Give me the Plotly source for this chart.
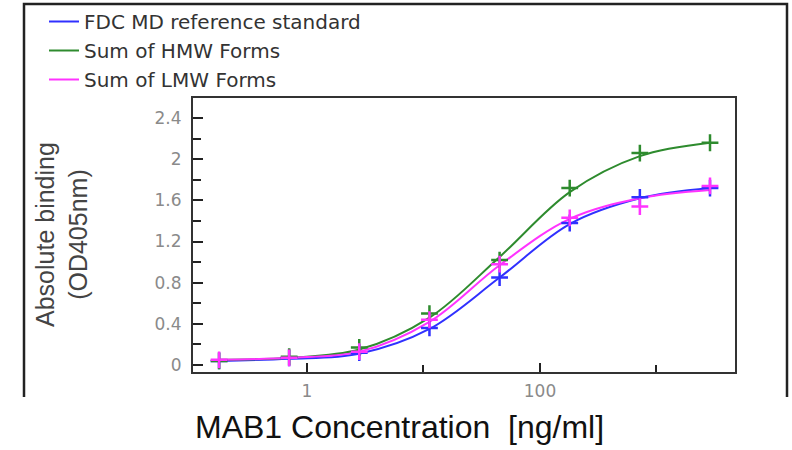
import plotly.graph_objects as go

# Concentrations (ng/ml), 4-fold dilution series
conc = [0.176, 0.703, 2.81, 11.25, 45, 180, 720, 2880]

# Measured points
ref_pts = [0.04, 0.07, 0.12, 0.36, 0.85, 1.38, 1.63, 1.72]
hmw_pts = [0.04, 0.08, 0.17, 0.50, 1.02, 1.72, 2.06, 2.16]
lmw_pts = [0.05, 0.07, 0.13, 0.44, 0.98, 1.43, 1.54, 1.74]

# Fitted curve values read at the same concentrations
ref_fit = [0.04, 0.06, 0.11, 0.35, 0.85, 1.37, 1.62, 1.72]
hmw_fit = [0.05, 0.07, 0.15, 0.46, 1.05, 1.68, 2.03, 2.16]
lmw_fit = [0.05, 0.07, 0.13, 0.42, 0.97, 1.42, 1.62, 1.70]

names = ["FDC MD reference standard", "Sum of HMW Forms", "Sum of LMW Forms"]
colors = ["#3030ff", "#2e8b2e", "#ff33ff"]

y_ticks = [0, 0.4, 0.8, 1.2, 1.6, 2, 2.4]
x_major = [1, 100]
x_minor = [10, 1000]

fig = go.Figure()
for name, col, fit in zip(names, colors, [ref_fit, hmw_fit, lmw_fit]):
    fig.add_trace(go.Scatter(x=conc, y=fit, mode="lines", name=name,
                             line=dict(color=col, width=2, shape="spline", smoothing=1.0)))
for name, col, pts in zip(names, colors, [ref_pts, hmw_pts, lmw_pts]):
    fig.add_trace(go.Scatter(x=conc, y=pts, mode="markers", name=name, showlegend=False,
                             marker=dict(symbol="cross-thin-open", size=12,
                                         line=dict(color=col, width=2.5), color=col)))

W, H = 792, 450
L, R, T, B = 193, 735, 98, 372

def px(X):
    return (X - L) / (R - L)

def py(Y):
    return (B - Y) / (B - T)

tickfont = dict(size=17, color="#8a8a8a", family="DejaVu Sans, sans-serif")

fig.update_layout(
    width=W, height=H,
    margin=dict(l=L, r=W - R, t=T, b=H - B, autoexpand=False),
    paper_bgcolor="white", plot_bgcolor="white",
    font=dict(family="Liberation Sans, Arial, sans-serif"),
    legend=dict(x=px(44), y=py(2), xref="paper", yref="paper",
                xanchor="left", yanchor="top", bgcolor="rgba(0,0,0,0)",
                font=dict(size=20, color="#333333", family="DejaVu Sans, sans-serif"),
                itemwidth=30, tracegroupgap=0),
    xaxis=dict(type="log", range=[-0.9785, 3.674], showline=True, mirror=True,
               linecolor="#333333", linewidth=2, showgrid=False, zeroline=False,
               automargin=False, ticklabelstandoff=3,
               tickmode="array", tickvals=x_major, ticktext=[str(v) for v in x_major],
               ticks="inside", ticklen=9, tickwidth=2, tickcolor="#222222",
               tickfont=tickfont,
               minor=dict(tickmode="array", tickvals=x_minor, ticks="inside",
                          ticklen=7, tickwidth=2, tickcolor="#222222")),
    yaxis=dict(range=[-0.068, 2.595], showline=True, mirror=True,
               linecolor="#333333", linewidth=2, showgrid=False, zeroline=False,
               automargin=False, ticklabelstandoff=6,
               tickmode="array", tickvals=y_ticks, ticktext=[f"{v:g}" for v in y_ticks],
               ticks="inside", ticklen=10, tickwidth=2, tickcolor="#222222",
               tickfont=tickfont,
               minor=dict(dtick=0.2, ticks="inside", ticklen=8, tickwidth=2,
                          tickcolor="#222222")),
    shapes=[dict(type="path", xref="paper", yref="paper",
                 path=f"M {px(24)} {py(397)} L {px(24)} {py(4)} L {px(787)} {py(4)} L {px(787)} {py(397)}",
                 line=dict(color="#222222", width=2.5))],
    annotations=[
        dict(text="Absolute binding<br>(OD405nm)", xref="paper", yref="paper",
             x=px(61), y=py(235), textangle=-90, showarrow=False,
             font=dict(size=25, color="#444444"), xanchor="center", yanchor="middle"),
        dict(text="MAB1 Concentration\u00a0\u00a0[ng/ml]", xref="paper", yref="paper",
             x=px(399), y=py(427), showarrow=False,
             font=dict(size=32, color="#111111"), xanchor="center", yanchor="middle"),
    ],
)

fig.write_html("out.html", post_script="document.body.style.margin='0';",
               config={"displayModeBar": False})
